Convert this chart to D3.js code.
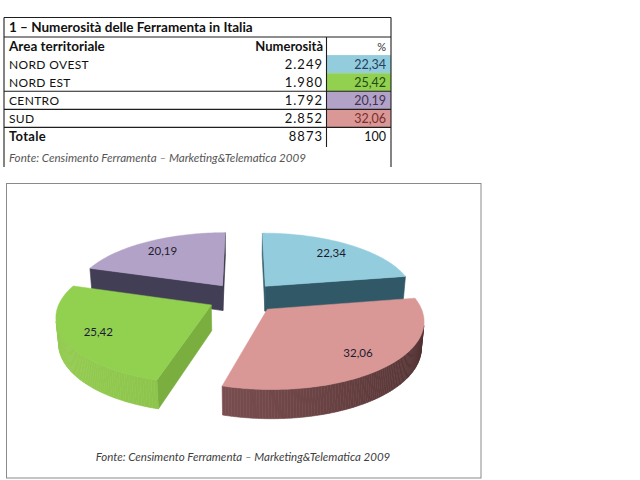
<!DOCTYPE html>
<html><head><meta charset="utf-8">
<script src="https://cdn.jsdelivr.net/npm/d3@7"></script>
<style>body{margin:0;background:#fff}svg{display:block}</style>
</head><body><svg id="c" width="640" height="480"></svg>
<script>
// ---------- data ----------
const title = "1 – Numerosità delle Ferramenta in Italia";
const headers = ["Area territoriale", "Numerosità", "%"];
const areas = ["NORD OVEST", "NORD EST", "CENTRO", "SUD"];
const counts = [2249, 1980, 1792, 2852];
const percents = [22.34, 25.42, 20.19, 32.06];
const totalLabel = "Totale";
const totalCount = 8873;
const totalPercent = 100;
const source = "Fonte: Censimento Ferramenta – Marketing&Telematica 2009";
const pieOrder = ["NORD OVEST", "SUD", "NORD EST", "CENTRO"];

// ---------- styles ----------
const topColors  = {"NORD OVEST":"#93cddd","NORD EST":"#92d050","CENTRO":"#b3a2c7","SUD":"#d99795"};
const cellText   = {"NORD OVEST":"#243f60","NORD EST":"#1f4a12","CENTRO":"#3f3151","SUD":"#7a2e2c"};
const wallDark   = {"NORD OVEST":"#284c5b","NORD EST":"#77ab3c","CENTRO":"#363346","SUD":"#4c2d2e"};
const wallLight  = {"NORD OVEST":"#35606f","NORD EST":"#93cb50","CENTRO":"#45415a","SUD":"#855658"};

const it = d3.formatLocale({decimal: ",", thousands: ".", grouping: [3], currency: ["€",""]});
const fmtCount = it.format(",d");
const fmtPct = it.format(".2f");

const svg = d3.select("#c");
const FONT = "Lato, 'Open Sans', sans-serif";

// ---------- table ----------
const T = {x0: 4, x1: 391, xDiv: 326.5, yTop: 17.5, yTitle: 37, yEnd: 145.5, yBottom: 167};
const rowKeys = ["header", ...areas, "total"];
const y = d3.scaleBand().domain(rowKeys).range([T.yTitle, T.yEnd]);
const tbl = svg.append("g");

tbl.selectAll("rect.cell").data(areas).join("rect")
  .attr("x", T.xDiv + 0.5).attr("y", d => y(d)).attr("width", T.x1 - T.xDiv - 0.5)
  .attr("height", y.bandwidth()).attr("fill", d => topColors[d]);

const line = (x1, y1, x2, y2) => tbl.append("line").attr("x1", x1).attr("y1", y1).attr("x2", x2).attr("y2", y2)
  .attr("stroke", "#1e1e1e").attr("stroke-width", 1.1);
line(T.x0, T.yTop, T.x1, T.yTop);
line(T.x0, T.yTitle, T.x1, T.yTitle);
["CENTRO", "SUD", "total"].forEach(k => line(T.x0, y(k), T.x1, y(k)));
line(T.x0, T.yTop, T.x0, T.yBottom);
line(T.x1, T.yTop, T.x1, T.yBottom);
line(T.xDiv, T.yTitle, T.xDiv, T.yEnd + 1.5);

const txt = (x, yy, s, o = {}) => tbl.append("text").attr("x", x).attr("y", yy).text(s)
  .attr("font-family", FONT).attr("font-size", o.size || 13).attr("font-weight", o.weight || "normal")
  .attr("font-style", o.style || "normal").attr("fill", o.fill || "#111")
  .attr("text-anchor", o.anchor || "start").attr("letter-spacing", o.ls || 0);

const base = 14;
txt(9, 31.5, title, {weight: "bold", size: 13.5});
txt(9, y("header") + base, headers[0], {weight: "bold", size: 13.5});
txt(323, y("header") + base, headers[1], {weight: "bold", anchor: "end", size: 13});
txt(386, y("header") + base, headers[2], {anchor: "end", size: 11, fill: "#333"});
areas.forEach((a, i) => {
  txt(9, y(a) + base, a, {size: 12, ls: 0.35});
  txt(323, y(a) + base, fmtCount(counts[i]), {anchor: "end", size: 13, ls: 1});
  txt(386, y(a) + base, fmtPct(percents[i]), {anchor: "end", size: 12.5, fill: cellText[a]});
});
txt(9, y("total") + base, totalLabel, {weight: "bold", size: 13, ls: 0.3});
txt(323, y("total") + base, String(totalCount), {anchor: "end", size: 13, ls: 1});
txt(386, y("total") + base, String(totalPercent), {anchor: "end", size: 12.5});
txt(9, 162, source, {style: "italic", size: 11.6, fill: "#555"});

// ---------- pie frame ----------
svg.append("rect").attr("x", 6.5).attr("y", 183.5).attr("width", 474.5).attr("height", 294.5)
  .attr("fill", "none").attr("stroke", "#8a8a8a").attr("stroke-width", 1);

// ---------- 3D exploded pie ----------
const cam = {L: 6, phi: 27 * Math.PI / 180, F: 888, ox: 243, oy: 323, h: 0.19, explode: 0.236, labelR: 0.78};
const sP = Math.sin(cam.phi), cP = Math.cos(cam.phi);
const camPos = [0, cam.L * sP, cam.L * cP];
const proj = p => { const d = cam.L - p[1] * sP - p[2] * cP;
  return [cam.ox + cam.F * p[0] / d, cam.oy - cam.F * (p[1] * cP - p[2] * sP) / d]; };
const lightDir = (() => { const v = [-1, 0, 0.35], n = Math.hypot(...v); return v.map(c => c / n); })();
const dot = (a, b) => a[0] * b[0] + a[1] * b[1] + a[2] * b[2];
const facing = (p, n) => dot([camPos[0] - p[0], camPos[1] - p[1], camPos[2] - p[2]], n) > 0;
const lineGen = d3.line();

const pieGen = d3.pie().sort(null).value(d => d.value);
const arcs = pieGen(pieOrder.map(n => ({name: n, value: percents[areas.indexOf(n)]})));

const slices = arcs.map(a => {
  const m = (a.startAngle + a.endAngle) / 2;
  return {a, m, ex: cam.explode * Math.sin(m), ez: -cam.explode * Math.cos(m)};
}).sort((p, q) => p.ez - q.ez);

const pieG = svg.append("g");
slices.forEach(s => {
  const name = s.a.data.name;
  const rim = (ang, Y, r = 1) => [s.ex + r * Math.sin(ang), Y, s.ez - r * Math.cos(ang)];
  const apex = Y => [s.ex, Y, s.ez];
  const shade = n => d3.interpolateRgb(wallDark[name], wallLight[name])((dot(n, lightDir) + 1) / 2);
  const g = pieG.append("g");
  const faces = [];
  const a0 = s.a.startAngle, a1 = s.a.endAngle;
  [[a0, [-Math.cos(a0), 0, -Math.sin(a0)]], [a1, [Math.cos(a1), 0, Math.sin(a1)]]].forEach(([ang, n]) => {
    const mid = rim(ang, cam.h / 2, 0.5);
    if (facing(mid, n)) faces.push({pts: [apex(cam.h), rim(ang, cam.h), rim(ang, 0), apex(0)], col: shade(n)});
  });
  const N = Math.max(8, Math.ceil((a1 - a0) / (Math.PI / 180)));
  for (let i = 0; i < N; i++) {
    const t0 = a0 + (a1 - a0) * i / N, t1 = a0 + (a1 - a0) * (i + 1) / N, tm = (t0 + t1) / 2;
    const n = [Math.sin(tm), 0, -Math.cos(tm)];
    if (facing(rim(tm, cam.h / 2), n))
      faces.push({pts: [rim(t0, cam.h), rim(t1, cam.h), rim(t1, 0), rim(t0, 0)], col: shade(n)});
  }
  faces.forEach(f => g.append("path").attr("d", lineGen(f.pts.map(proj)) + "Z")
    .attr("fill", f.col).attr("stroke", f.col).attr("stroke-width", 0.6).attr("stroke-linejoin", "round"));
  const topPts = [apex(cam.h)];
  for (let i = 0; i <= N; i++) topPts.push(rim(a0 + (a1 - a0) * i / N, cam.h));
  g.append("path").attr("d", lineGen(topPts.map(proj)) + "Z").attr("fill", topColors[name])
    .attr("stroke", topColors[name]).attr("stroke-width", 0.5);
  const lp = proj(rim(s.m, cam.h, cam.labelR));
  g.append("text").attr("x", lp[0]).attr("y", lp[1]).attr("text-anchor", "middle")
    .attr("dominant-baseline", "central").attr("font-family", FONT).attr("font-size", 11.5)
    .attr("fill", "#1c1c30").text(fmtPct(s.a.data.value));
});

svg.append("text").attr("x", 243).attr("y", 461).attr("text-anchor", "middle")
  .attr("font-family", FONT).attr("font-style", "italic").attr("font-size", 11.5)
  .attr("fill", "#404040").text(source);
</script></body></html>
